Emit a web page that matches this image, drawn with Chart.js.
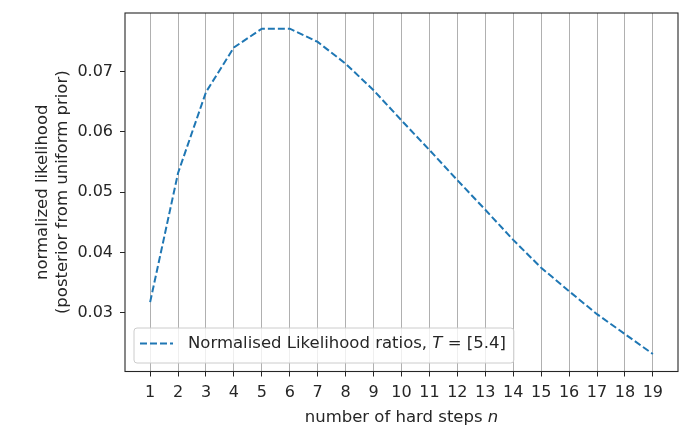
<!DOCTYPE html>
<html>
<head>
<meta charset="utf-8">
<script src="https://cdn.jsdelivr.net/npm/chart.js@4"></script>
<style>
  html, body { margin: 0; padding: 0; background: #fff; }
  #wrap { width: 685px; height: 436px; position: relative; }
</style>
</head>
<body>
<div id="wrap"><canvas id="likelihood-chart"></canvas></div>
<script>
// values
const steps = [1, 2, 3, 4, 5, 6, 7, 8, 9, 10, 11, 12, 13, 14, 15, 16, 17, 18, 19];
const likelihood = [0.0318, 0.0532, 0.0666, 0.0740, 0.0771, 0.0771, 0.0749, 0.0713, 0.0669, 0.0619,
                    0.0570, 0.0520, 0.0471, 0.0421, 0.0375, 0.0336, 0.0298, 0.0265, 0.0232];
const yTicks = [0.03, 0.04, 0.05, 0.06, 0.07];
const seriesLabel = ['Normalised Likelihood ratios, ', 'T', ' = [5.4]'];
const xTitle = ['number of hard steps ', 'n'];

const FONT = 'DejaVu Sans';
const TEXT = '#262626';
const SPINE = '#262626';
const TICK_SIZE = 16;
const LABEL_SIZE = 16.5;

// draws a run of text pieces, every odd piece in italics (like mathtext)
const drawMixed = (ctx, parts, x, y, size, align) => {
  const normal = size + 'px "' + FONT + '"';
  const italic = 'italic ' + size + 'px "' + FONT + '"';
  const widths = parts.map((p, i) => {
    ctx.font = i % 2 ? italic : normal;
    return ctx.measureText(p).width;
  });
  const total = widths.reduce((s, w) => s + w, 0);
  let tx = align === 'center' ? x - total / 2 : x;
  ctx.textAlign = 'left';
  parts.forEach((p, i) => {
    ctx.font = i % 2 ? italic : normal;
    ctx.fillText(p, tx, y);
    tx += widths[i];
  });
  return total;
};

const measureMixed = (ctx, parts, size) => {
  let total = 0;
  parts.forEach((p, i) => {
    ctx.font = (i % 2 ? 'italic ' : '') + size + 'px "' + FONT + '"';
    total += ctx.measureText(p).width;
  });
  return total;
};

// matplotlib-style frame and x label
const framePlugin = {
  id: 'frame',
  afterDraw(chart) {
    const {ctx, chartArea: a} = chart;
    ctx.save();
    ctx.strokeStyle = SPINE;
    ctx.lineWidth = 1.1;
    ctx.strokeRect(a.left, a.top, a.right - a.left, a.bottom - a.top);

    ctx.fillStyle = TEXT;
    ctx.textBaseline = 'middle';
    drawMixed(ctx, xTitle, (a.left + a.right) / 2, chart.height - 18, LABEL_SIZE, 'center');
    ctx.restore();
  }
};

// legend box in the lower left, with italic T
const legendPlugin = {
  id: 'mplLegend',
  afterDatasetsDraw(chart) {
    const {ctx, chartArea: a} = chart;
    const ds = chart.data.datasets[0];
    ctx.save();
    const textW = measureMixed(ctx, seriesLabel, LABEL_SIZE);

    const x = a.left + 9, h = 35;
    const y = a.bottom - 8.5 - h;
    const handle = 33, gap = 15, padL = 6, padR = 8;
    const w = padL + handle + gap + textW + padR;

    ctx.beginPath();
    ctx.roundRect(x, y, w, h, 3);
    ctx.fillStyle = 'rgba(255,255,255,0.8)';
    ctx.fill();
    ctx.strokeStyle = '#cccccc';
    ctx.lineWidth = 1;
    ctx.stroke();

    const cy = y + h / 2 - 2;
    ctx.beginPath();
    ctx.setLineDash(ds.borderDash);
    ctx.strokeStyle = ds.borderColor;
    ctx.lineWidth = ds.borderWidth;
    ctx.moveTo(x + padL, cy);
    ctx.lineTo(x + padL + handle, cy);
    ctx.stroke();
    ctx.setLineDash([]);

    ctx.fillStyle = TEXT;
    ctx.textBaseline = 'middle';
    drawMixed(ctx, seriesLabel, x + padL + handle + gap, cy, LABEL_SIZE, 'left');
    ctx.restore();
  }
};

const chartInit = () => {
  const ctx = document.getElementById('likelihood-chart').getContext('2d');
  new Chart(ctx, {
    type: 'line',
    data: {
      datasets: [{
        label: seriesLabel.join(''),
        data: steps.map((n, i) => ({x: n, y: likelihood[i]})),
        borderColor: '#1f77b4',
        borderWidth: 2,
        borderDash: [7, 3],
        pointRadius: 0,
        fill: false,
        tension: 0
      }]
    },
    options: {
      responsive: true,
      maintainAspectRatio: false,
      animation: false,
      layout: {
        padding: {left: 0, right: 7, top: 13, bottom: 0}
      },
      plugins: {
        legend: {display: false},
        tooltip: {enabled: false}
      },
      scales: {
        x: {
          type: 'linear',
          min: 0.1,
          max: 19.9,
          afterBuildTicks: axis => { axis.ticks = steps.map(v => ({value: v})); },
          afterFit: axis => {
            axis.height = 64.5;
            axis.paddingLeft = 0;
            axis.paddingRight = 0;
          },
          border: {display: false},
          grid: {
            color: '#b0b0b0',
            lineWidth: 1,
            tickColor: SPINE,
            tickLength: 5
          },
          ticks: {
            color: TEXT,
            padding: 7,
            maxRotation: 0,
            autoSkip: false,
            font: {family: FONT, size: TICK_SIZE}
          }
        },
        y: {
          min: 0.0203,
          max: 0.0797,
          afterBuildTicks: axis => { axis.ticks = yTicks.map(v => ({value: v})); },
          afterFit: axis => {
            axis.width = 125;
            axis.paddingTop = 0;
            axis.paddingBottom = 0;
          },
          border: {display: false},
          grid: {
            drawOnChartArea: false,
            tickColor: SPINE,
            tickLength: 5
          },
          ticks: {
            color: TEXT,
            padding: 7,
            font: {family: FONT, size: TICK_SIZE},
            callback: v => v.toFixed(2)
          },
          title: {
            display: true,
            text: ['normalized likelihood', '(posterior from uniform prior)'],
            color: TEXT,
            font: {family: FONT, size: LABEL_SIZE},
            padding: {top: 33, bottom: 0}
          }
        }
      }
    },
    plugins: [framePlugin, legendPlugin]
  });
};

chartInit();
</script>
</body>
</html>
